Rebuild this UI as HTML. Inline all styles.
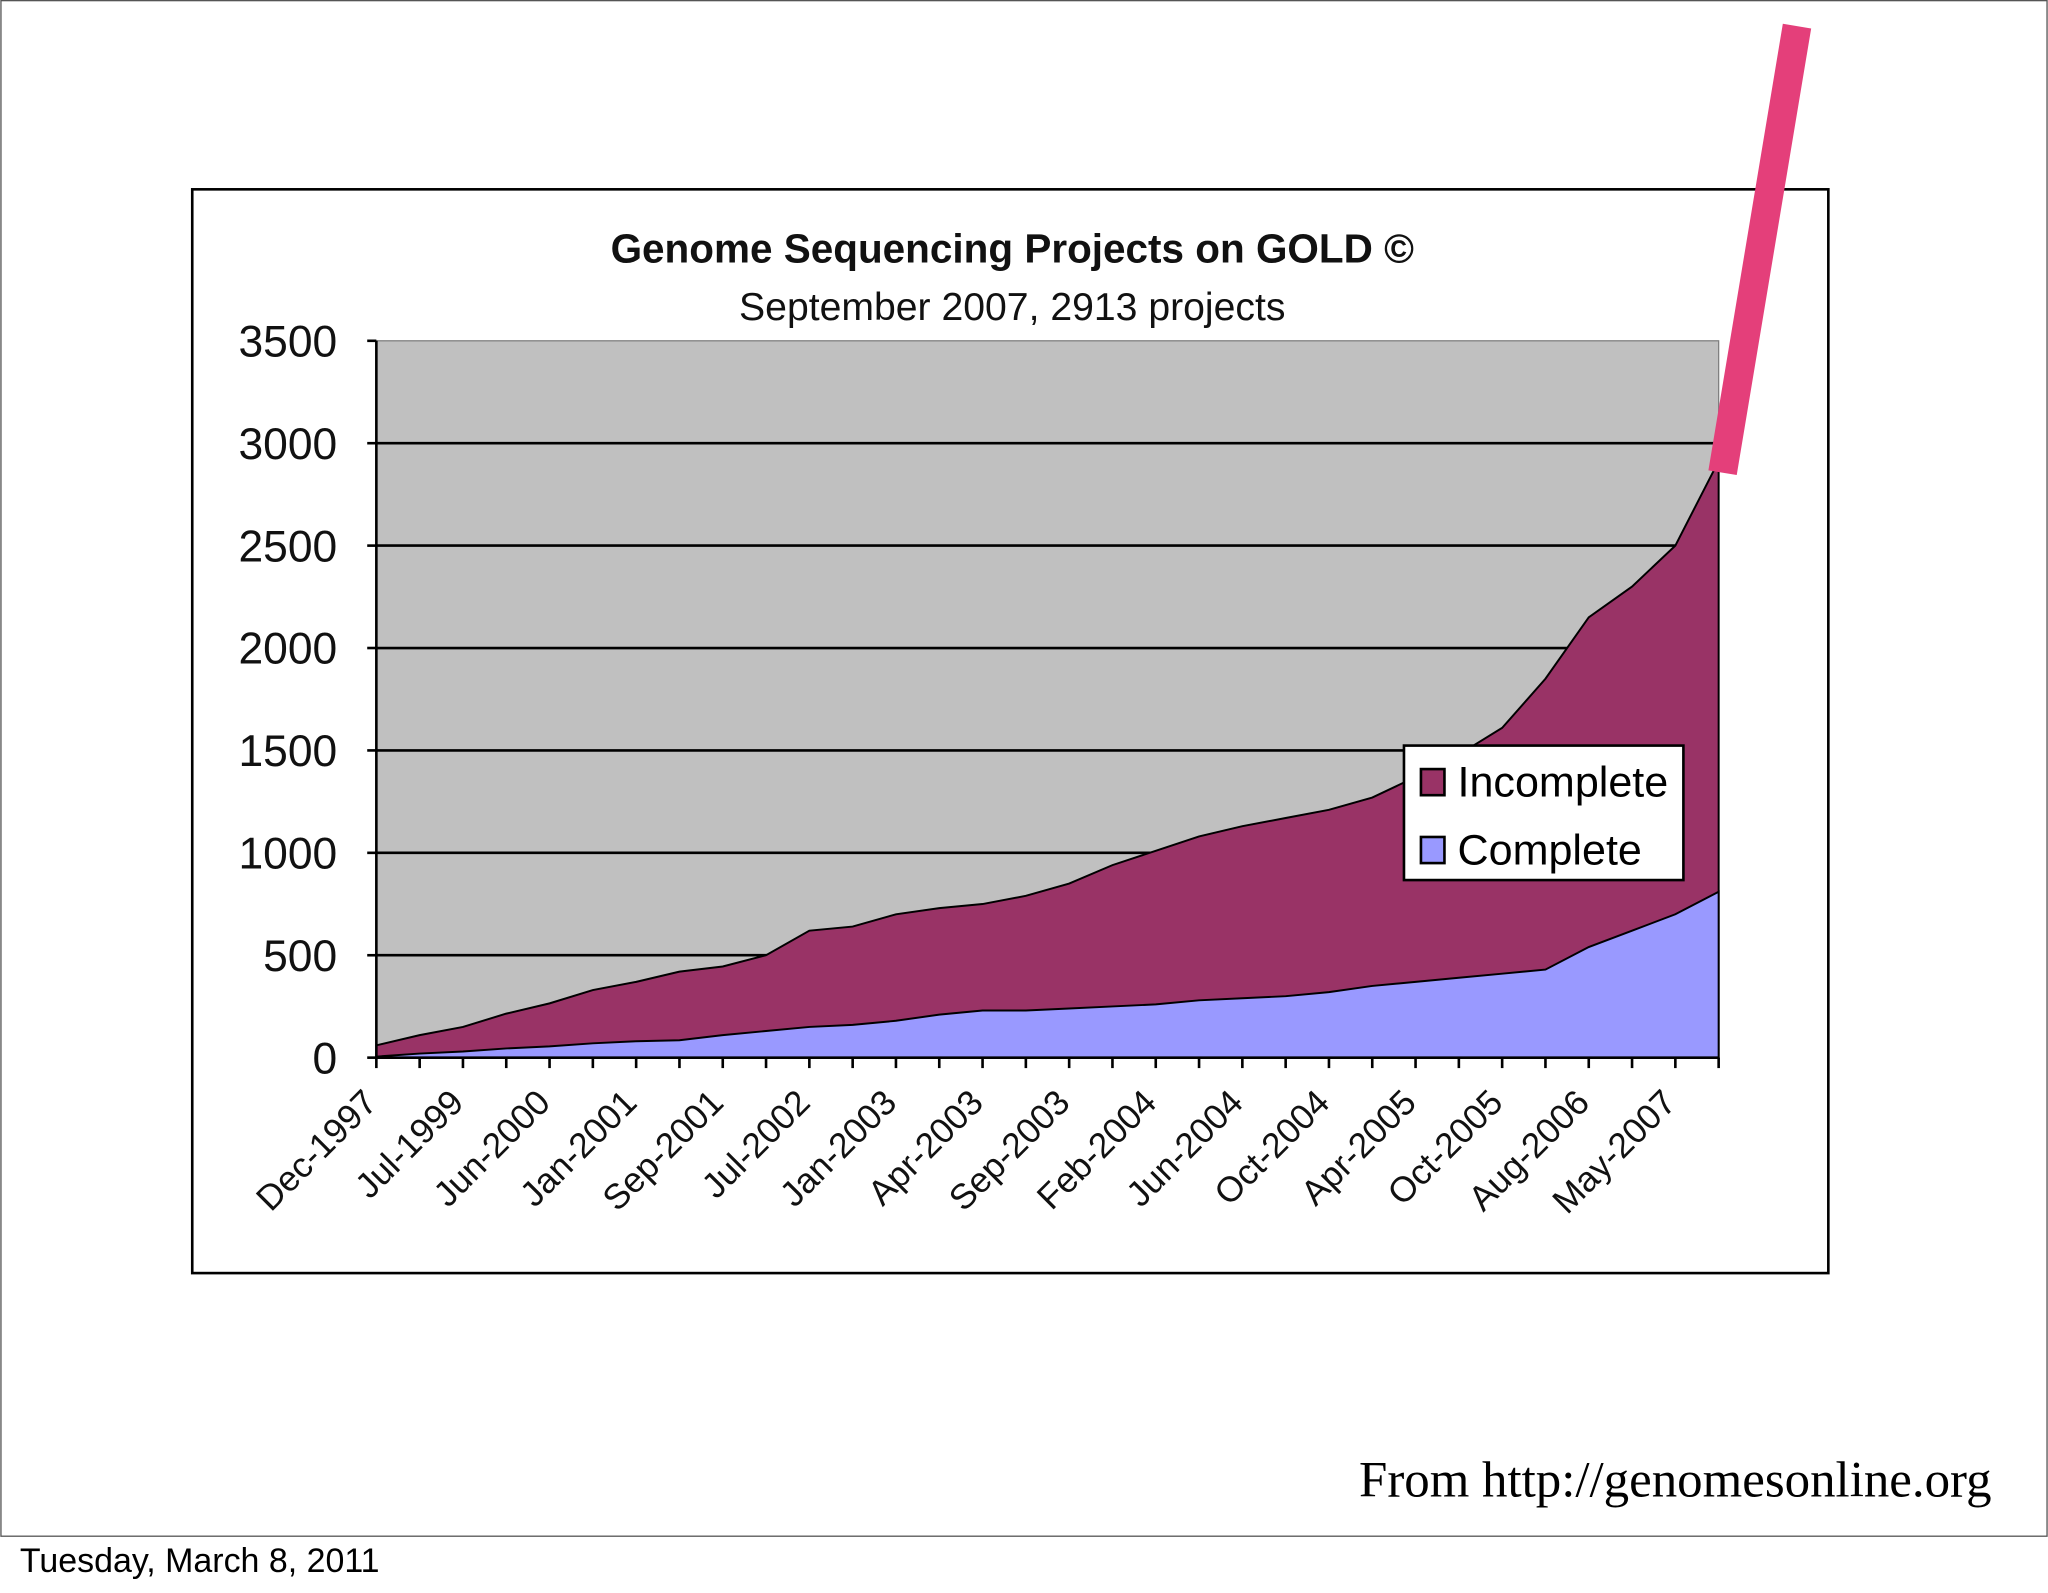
<!DOCTYPE html>
<html><head><meta charset="utf-8"><style>
html,body{margin:0;padding:0;background:#fff;}
svg{display:block;}
</style></head><body>
<svg width="2048" height="1593" viewBox="0 0 1568 1220" xmlns="http://www.w3.org/2000/svg" font-family="Liberation Sans, sans-serif">
<rect x="0.5" y="0.5" width="1567" height="1176" fill="#fff" stroke="#555" stroke-width="1"/>
<rect x="147" y="145" width="1253" height="830" fill="#fff" stroke="#000" stroke-width="2"/>
<text x="775" y="201" text-anchor="middle" font-size="31" font-weight="bold" fill="#111">Genome Sequencing Projects on GOLD ©</text>
<text x="775" y="245" text-anchor="middle" font-size="30" fill="#111">September 2007, 2913 projects</text>
<g id="plot"></g>
<g>
<rect x="1075" y="571" width="214" height="103" fill="#fff" stroke="#000" stroke-width="2"/>
<rect x="1088" y="589" width="18" height="20" fill="#993366" stroke="#000" stroke-width="2"/>
<text x="1116" y="610" font-size="33" fill="#000">Incomplete</text>
<rect x="1088" y="641" width="18" height="20" fill="#9999ff" stroke="#000" stroke-width="2"/>
<text x="1116" y="662" font-size="33" fill="#000">Complete</text>
</g>
<line x1="1376" y1="20" x2="1319" y2="362" stroke="#e43f7a" stroke-width="22"/>
<text x="1525" y="1146" text-anchor="end" font-family="Liberation Serif, serif" font-size="39" fill="#000">From http://genomesonline.org</text>
<text x="15" y="1204" font-size="26" fill="#000">Tuesday, March 8, 2011</text>
</svg>
<script>
const categoryCount = 32;
const xLabels = ["Dec-1997","Jul-1999","Jun-2000","Jan-2001","Sep-2001","Jul-2002","Jan-2003","Apr-2003","Sep-2003","Feb-2004","Jun-2004","Oct-2004","Apr-2005","Oct-2005","Aug-2006","May-2007"];
const complete = [5,20,30,45,55,70,80,85,110,130,150,160,180,210,230,230,240,250,260,280,290,300,320,350,370,390,410,430,540,620,700,810];
const incomplete = [55,90,120,170,210,260,290,335,335,370,470,480,520,520,520,560,610,690,750,800,840,870,890,920,1000,1090,1200,1420,1610,1680,1800,2103];
const yTicks = [0,500,1000,1500,2000,2500,3000,3500];

const NS="http://www.w3.org/2000/svg";
const g=document.getElementById('plot');
const X0=288,X1=1316,Y0=810,Y1=261,YMAX=3500;
const xs=i=>X0+i*(X1-X0)/(categoryCount-1);
const ys=v=>Y0-v*(Y0-Y1)/YMAX;
function mk(t,a){const e=document.createElementNS(NS,t);for(const k in a)e.setAttribute(k,a[k]);g.appendChild(e);return e;}
let e=mk('rect',{x:X0,y:Y1,width:X1-X0,height:Y0-Y1,fill:'#c0c0c0',stroke:'#808080','stroke-width':1});


yTicks.forEach(v=>{
  if(v>0&&v<YMAX){const l=mk('line',{x1:X0,x2:X1,y1:ys(v),y2:ys(v),stroke:'#000','stroke-width':2});
  
  }
  const t=mk('text',{x:258,y:ys(v)+12,'text-anchor':'end','font-size':34,fill:'#111'});t.textContent=v;
  
  
  const tk=mk('line',{x1:X0-7,x2:X0,y1:ys(v),y2:ys(v),stroke:'#000','stroke-width':2});
  
  
});
const tot=complete.map((c,i)=>c+incomplete[i]);
let p1='M'+xs(0)+','+Y0;tot.forEach((v,i)=>p1+=' L'+xs(i)+','+ys(v));p1+=' L'+xs(categoryCount-1)+','+Y0+'Z';
e=mk('path',{d:p1,fill:'#993366',stroke:'#000','stroke-width':1.5});


let p2='M'+xs(0)+','+Y0;complete.forEach((v,i)=>p2+=' L'+xs(i)+','+ys(v));p2+=' L'+xs(categoryCount-1)+','+Y0+'Z';
e=mk('path',{d:p2,fill:'#9999ff',stroke:'#000','stroke-width':1.5});


e=mk('line',{x1:X0,x2:X0,y1:Y1,y2:Y0,stroke:'#000','stroke-width':2});


e=mk('line',{x1:X0,x2:X1,y1:Y0,y2:Y0,stroke:'#000','stroke-width':2});


for(let i=0;i<categoryCount;i++){
  const t=mk('line',{x1:xs(i),x2:xs(i),y1:Y0,y2:Y0+8,stroke:'#000','stroke-width':2});
  
  
}
xLabels.forEach((s,j)=>{
  const x=xs(j*2)+2,y=Y0+36;
  const t=mk('text',{x:x,y:y,'text-anchor':'end','font-size':27,fill:'#111',transform:'rotate(-45 '+x+' '+y+')'});
  t.textContent=s;
  
  
});
</script>
</body></html>
